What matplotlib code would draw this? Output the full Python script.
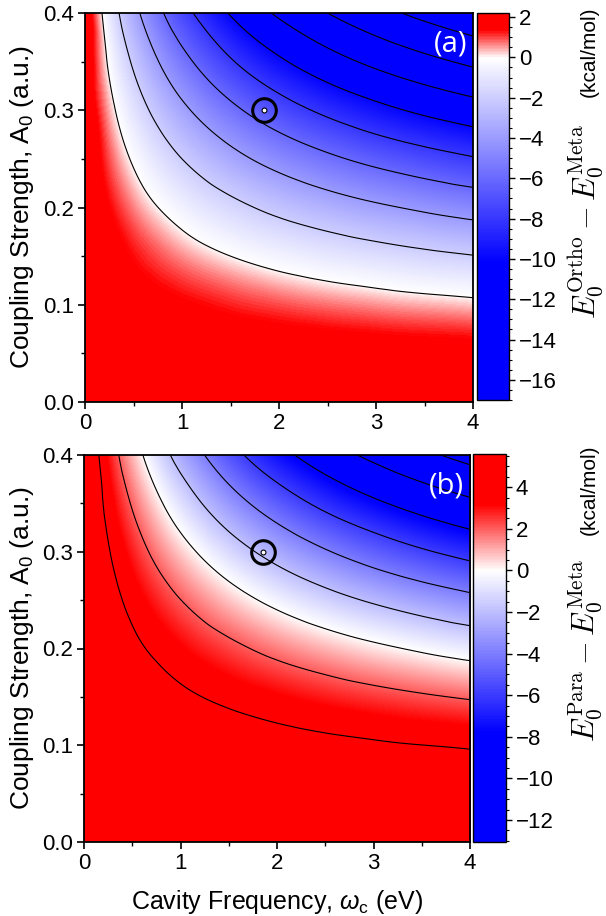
import numpy as np
import matplotlib
matplotlib.use('Agg')
import matplotlib.pyplot as plt
import matplotlib.tri as mtri
from matplotlib.colors import LinearSegmentedColormap, Normalize
from matplotlib.ticker import MultipleLocator

plt.rcParams['font.family'] = ['Liberation Sans', 'DejaVu Sans']
plt.rcParams['mathtext.fontset'] = 'custom'
plt.rcParams['mathtext.rm'] = 'Liberation Sans'
plt.rcParams['mathtext.it'] = 'Liberation Sans:italic'
plt.rcParams['axes.unicode_minus'] = True

# cavity frequency (eV) and coupling strength (a.u.) grid
freq = [0.0, 0.25, 0.5, 0.75, 1.0, 1.5, 2.0, 2.5, 3.0, 3.5, 4.0]
coupling = [0.0, 0.05, 0.1, 0.15, 0.2, 0.25, 0.3, 0.35, 0.4]

# E0(Ortho) - E0(Meta), kcal/mol, one row per coupling value
ortho_meta = [
    [2.20, 2.20, 2.20, 2.20, 2.20, 2.20, 2.20, 2.20, 2.20, 2.20, 2.20],
    [2.20, 2.15, 2.10, 2.06, 2.02, 1.95, 1.88, 1.83, 1.78, 1.74, 1.70],
    [2.20, 1.99, 1.81, 1.64, 1.48, 1.20, 0.96, 0.75, 0.57, 0.41, 0.27],
    [2.20, 1.74, 1.32, 0.95, 0.60, 0.00, -0.51, -0.94, -1.32, -1.66, -1.95],
    [2.20, 1.39, 0.66, 0.01, -0.57, -1.58, -2.42, -3.13, -3.74, -4.27, -4.74],
    [2.20, 0.94, -0.16, -1.13, -2.00, -3.46, -4.66, -5.66, -6.51, -7.23, -7.86],
    [2.20, 0.41, -1.13, -2.46, -3.63, -5.57, -7.13, -8.40, -9.46, -10.35, -11.12],
    [2.20, -0.21, -2.23, -3.94, -5.42, -7.82, -9.70, -11.21, -12.45, -13.48, -14.36],
    [2.20, -0.90, -3.43, -5.54, -7.31, -10.14, -12.30, -14.00, -15.37, -16.51, -17.46],
]

# E0(Para) - E0(Meta), kcal/mol
para_meta = [
    [5.60, 5.60, 5.60, 5.60, 5.60, 5.60, 5.60, 5.60, 5.60, 5.60, 5.60],
    [5.60, 5.56, 5.52, 5.48, 5.45, 5.38, 5.33, 5.28, 5.23, 5.19, 5.16],
    [5.60, 5.43, 5.27, 5.13, 4.99, 4.74, 4.53, 4.33, 4.16, 4.01, 3.87],
    [5.60, 5.22, 4.87, 4.55, 4.25, 3.71, 3.25, 2.84, 2.48, 2.16, 1.87],
    [5.60, 4.93, 4.32, 3.76, 3.25, 2.35, 1.57, 0.90, 0.31, -0.21, -0.67],
    [5.60, 4.56, 3.63, 2.78, 2.02, 0.70, -0.42, -1.38, -2.20, -2.92, -3.55],
    [5.60, 4.11, 2.81, 1.64, 0.61, -1.17, -2.63, -3.86, -4.90, -5.80, -6.58],
    [5.60, 3.60, 1.87, 0.37, -0.96, -3.18, -4.97, -6.45, -7.68, -8.73, -9.63],
    [5.60, 3.02, 0.84, -1.02, -2.63, -5.28, -7.36, -9.05, -10.43, -11.60, -12.59],
]

levels_a = [-16, -14, -12, -10, -8, -6, -4, -2, 0]
levels_b = [-12, -10, -8, -6, -4, -2, 0, 2, 4]
cbar_ticks_a = [2, 0, -2, -4, -6, -8, -10, -12, -14, -16]
cbar_ticks_b = [4, 2, 0, -2, -4, -6, -8, -10, -12]
marked_freq = 1.85
marked_coupling = 0.30


def make_cmap(vmin, vmax, v_blue, v_red):
    p = lambda v: (v - vmin) / (vmax - vmin)
    return LinearSegmentedColormap.from_list('rwb', [
        (0.0, (0.0, 0.0, 1.0)),
        (p(v_blue), (0.0, 0.0, 1.0)),
        (p(0.0), (1.0, 1.0, 1.0)),
        (p(v_red), (1.0, 0.0, 0.0)),
        (1.0, (1.0, 0.0, 0.0)),
    ])


W, A = np.meshgrid(freq, coupling)
tri = mtri.Triangulation(W.ravel(), A.ravel())
fw, fa = np.meshgrid(np.linspace(0, 4, 401), np.linspace(0, 0.4, 401))

fig = plt.figure(figsize=(6.06, 9.16), dpi=100)

panels = [
    (ortho_meta, levels_a, cbar_ticks_a, (-17.0, 2.2), (-10.2, 1.4), '(a)', 'Ortho',
     [85 / 606, 1 - 402 / 916, 388 / 606, 389 / 916], [477 / 606, 1 - 400 / 916, 32 / 606, 387 / 916],
     (586, 222), (589, 52)),
    (para_meta, levels_b, cbar_ticks_b, (-13.06, 5.6), (-7.8, 3.2), '(b)', 'Para',
     [84 / 606, 1 - 842 / 916, 386 / 606, 387 / 916], [473 / 606, 1 - 842 / 916, 33 / 606, 388 / 916],
     (586, 650), (589, 490)),
]

for data, levels, cticks, (vmin, vmax), (vb, vr), tag, iso, rect, crect, mpos, upos in panels:
    ax = fig.add_axes(rect)
    cax = fig.add_axes(crect)
    z = np.array(data).ravel()
    interp = mtri.CubicTriInterpolator(tri, z, kind='geom')
    fz = interp(fw, fa)
    cmap = make_cmap(vmin, vmax, vb, vr)
    norm = Normalize(vmin=vmin, vmax=vmax)
    im = ax.imshow(fz, extent=[0, 4, 0, 0.4], origin='lower', aspect='auto',
                   cmap=cmap, norm=norm, interpolation='bilinear')
    ax.contour(fw, fa, fz, levels=levels, colors='k', linewidths=0.8, linestyles='solid')
    ax.plot(marked_freq, marked_coupling, 'o', ms=17, mfc='none', mec='k', mew=2.2)
    ax.plot(marked_freq, marked_coupling, 'o', ms=3.5, mfc='white', mec='k', mew=0.8)
    ax.set_xlim(0, 4)
    ax.set_ylim(0, 0.4)
    ax.xaxis.set_major_locator(MultipleLocator(1))
    ax.xaxis.set_minor_locator(MultipleLocator(0.5))
    ax.yaxis.set_major_locator(MultipleLocator(0.1))
    ax.yaxis.set_minor_locator(MultipleLocator(0.05))
    ax.xaxis.set_major_formatter(lambda v, pos: '%d' % v)
    ax.yaxis.set_major_formatter(lambda v, pos: '%.1f' % v)
    ax.tick_params(which='major', direction='out', length=5, width=1.2, labelsize=16, pad=3)
    ax.tick_params(which='minor', direction='out', length=3, width=1.0)
    for s in ax.spines.values():
        s.set_linewidth(1.3)
    ax.set_ylabel('Coupling Strength, A$_\\mathrm{0}$ (a.u.)', fontsize=19)
    ax.yaxis.set_label_coords(-0.125, 0.5)
    ax.text(0.985, 0.957, tag, transform=ax.transAxes, ha='right', va='top',
            color='white', fontsize=21, family=['Open Sans', 'DejaVu Sans'])

    cb = fig.colorbar(im, cax=cax)
    cb.set_ticks(cticks)
    cb.ax.yaxis.set_minor_locator(MultipleLocator(0.5))
    cb.ax.tick_params(which='major', direction='out', length=4, width=1.0, labelsize=16, pad=3)
    cb.ax.tick_params(which='minor', direction='out', length=2.5, width=0.8)
    cb.outline.set_linewidth(1.0)
    fig.text(mpos[0] / 606, 1 - mpos[1] / 916,
             r'$E_0^{\mathrm{%s}} - E_0^{\mathrm{Meta}}$' % iso,
             rotation=90, ha='center', va='center', fontsize=22, math_fontfamily='cm')
    fig.text(upos[0] / 606, 1 - upos[1] / 916, '(kcal/mol)',
             rotation=90, ha='center', va='center', fontsize=15)

ax.set_xlabel('Cavity Frequency, $\\omega_\\mathrm{c}$ (eV)', fontsize=18)
ax.xaxis.set_label_coords(0.5, -0.118)

fig.savefig('out.png', dpi=100)
